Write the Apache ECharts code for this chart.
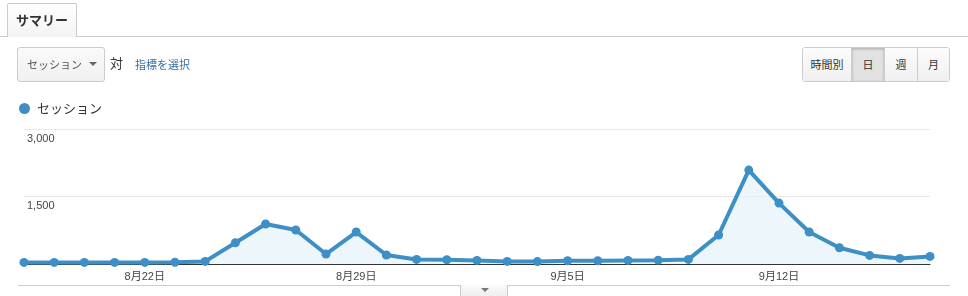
<!DOCTYPE html>
<html><head><meta charset="utf-8">
<script src="https://cdn.jsdelivr.net/npm/echarts@6/dist/echarts.min.js"></script>
<style>
html,body{margin:0;padding:0;width:968px;height:296px;overflow:hidden;background:#fff;font-family:"Liberation Sans","Noto Sans CJK JP",sans-serif;}
#chart{position:absolute;left:0;top:0;width:968px;height:296px;}
.abs{position:absolute;box-sizing:border-box;}
#topline{left:0;top:36px;width:968px;height:1px;background:#ccc;}
#tab{left:7px;top:3px;width:70px;height:34px;border:1px solid #ccc;border-bottom:none;border-radius:2px 2px 0 0;background:linear-gradient(#fff,#f3f3f3);font-weight:bold;font-size:13px;color:#333;line-height:32px;text-align:center;font-family:"Noto Sans CJK JP",sans-serif;}
#dd{left:17px;top:47px;width:88px;height:35px;border:1px solid #ccc;border-radius:3px;background:linear-gradient(#fafafa,#f0f0f0);font-size:11px;color:#555;line-height:33px;padding-left:9px;font-family:"Noto Sans CJK JP",sans-serif;}
#arrow{left:89px;top:62px;width:0;height:0;border-left:4px solid transparent;border-right:4px solid transparent;border-top:4px solid #666;}
#tai{left:110px;top:53px;font-size:13px;color:#333;font-family:"Noto Sans CJK JP",sans-serif;}
#sel{left:135px;top:56px;font-size:11px;color:#3a6ea5;font-family:"Noto Sans CJK JP",sans-serif;}
#btns{left:802px;top:47px;width:148px;height:35px;border:1px solid #ccc;border-radius:3px;overflow:hidden;display:flex;font-family:"Noto Sans CJK JP",sans-serif;font-size:11px;color:#333;}
#btns div{box-sizing:border-box;height:33px;line-height:33px;text-align:center;background:linear-gradient(#fcfcfc,#f0f0f0);border-left:1px solid #ccc;}
#btns div:first-child{border-left:none;}
#btns .on{background:#e2e2e2;box-shadow:inset 0 1px 3px rgba(0,0,0,0.25);}
#bottomline{left:18px;top:285px;width:932px;height:1px;background:#ccc;}
#btab{left:460px;top:285px;width:48px;height:12px;border:1px solid #ccc;border-top:none;background:linear-gradient(#fafafa,#eee);}
#btri{left:481px;top:288px;width:0;height:0;border-left:4px solid transparent;border-right:4px solid transparent;border-top:4px solid #777;}
</style></head>
<body>
<div id="chart"></div>
<div class="abs" id="topline"></div>
<div class="abs" id="tab">サマリー</div>
<div class="abs" id="dd">セッション</div>
<div class="abs" id="arrow"></div>
<div class="abs" id="tai">対</div>
<div class="abs" id="sel">指標を選択</div>
<div class="abs" id="btns"><div style="width:48px">時間別</div><div class="on" style="width:33px">日</div><div style="width:33px">週</div><div style="width:33px;flex:1">月</div></div>
<div class="abs" id="bottomline"></div>
<div class="abs" id="btab"></div>
<div class="abs" id="btri"></div>
<script>
const dates = ["8月18日","8月19日","8月20日","8月21日","8月22日","8月23日","8月24日","8月25日","8月26日","8月27日","8月28日","8月29日","8月30日","8月31日","9月1日","9月2日","9月3日","9月4日","9月5日","9月6日","9月7日","9月8日","9月9日","9月10日","9月11日","9月12日","9月13日","9月14日","9月15日","9月16日","9月17日"];
const sessions = [35,35,35,35,35,40,58,473,888,755,222,710,200,102,95,80,58,53,73,73,80,85,102,644,2087,1354,710,362,191,124,169];
const yTicks = [0,1500,3000];
const seriesName = "セッション";

const chart = echarts.init(document.getElementById('chart'));
chart.setOption({
  animation:false,
  legend:{
    left:14, top:97, itemWidth:11, itemHeight:11, itemGap:10,
    icon:'circle',
    data:[seriesName],
    textStyle:{fontSize:13,color:'#333',fontFamily:'"Noto Sans CJK JP",sans-serif',padding:[0,0,0,2]}
  },
  grid:{left:24,right:38,top:129,height:135},
  xAxis:{
    type:'category', data:dates, boundaryGap:false,
    axisLine:{lineStyle:{color:'#333',width:1}},
    axisTick:{show:false},
    axisLabel:{
      interval:function(i){return (i-4)%7===0;},
      fontSize:11, color:'#444', margin:7,
      fontFamily:'"Liberation Sans","Noto Sans CJK JP",sans-serif'
    }
  },
  yAxis:{
    type:'value', min:yTicks[0], max:yTicks[yTicks.length-1], interval:yTicks[1]-yTicks[0],
    axisLine:{show:false}, axisTick:{show:false},
    splitLine:{lineStyle:{color:'#e8e8e8'}},
    axisLabel:{
      inside:true, verticalAlign:'top', margin:3, padding:[4,0,0,0],
      fontSize:11, color:'#444',
      fontFamily:'"Liberation Sans",sans-serif',
      formatter:function(v){return v===0?'':v.toLocaleString('en-US');}
    }
  },
  series:[{
    name:seriesName, type:'line', data:sessions,
    symbol:'circle', symbolSize:9, showSymbol:true,
    lineStyle:{color:'#3d8fc6',width:4},
    itemStyle:{color:'#3d8fc6'},
    areaStyle:{color:'#e6f2f8'}
  }]
});
</script>
</body></html>
